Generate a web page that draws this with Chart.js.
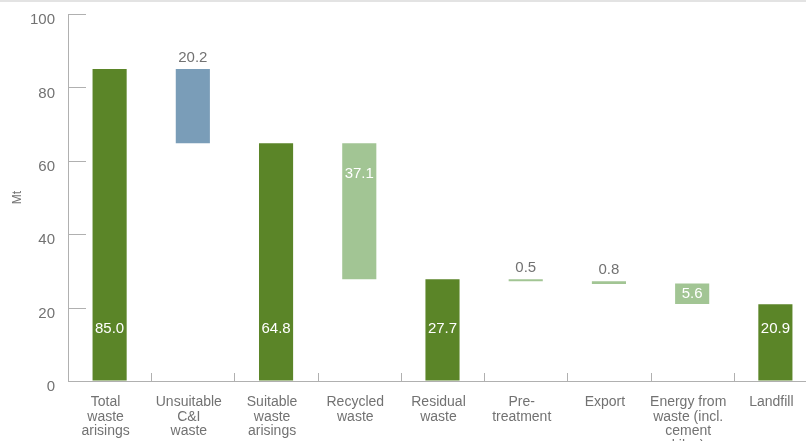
<!DOCTYPE html>
<html><head><meta charset="utf-8">
<script src="https://cdn.jsdelivr.net/npm/chart.js@4"></script>
<style>
html,body{margin:0;padding:0;background:#fff;overflow:hidden;}
#wrap{position:relative;width:817px;height:441px;}
#topline{position:absolute;left:0;top:0;width:806px;height:2px;background:#e3e3e3;}
</style></head><body>
<div id="wrap"><canvas id="c"></canvas></div>
<div id="topline"></div>
<script>
const categories = [
  ['Total','waste','arisings'],
  ['Unsuitable','C&I','waste'],
  ['Suitable','waste','arisings'],
  ['Recycled','waste'],
  ['Residual','waste'],
  ['Pre-','treatment'],
  ['Export'],
  ['Energy from','waste (incl.','cement','kilns)'],
  ['Landfill']
];
const barStarts = [0, 64.8, 0, 27.7, 0, 27.2, 26.4, 21.0, 0];
const barEnds   = [85.0, 85.0, 64.8, 64.8, 27.7, 27.7, 27.2, 26.6, 20.9];
const valueLabels = ['85.0','20.2','64.8','37.1','27.7','0.5','0.8','5.6','20.9'];
const yTicks = [0, 20, 40, 60, 80, 100];

const DARK = '#5b8528', BLUE = '#7a9db8', LIGHT = '#a2c594';
const barColors = [DARK, BLUE, DARK, LIGHT, DARK, LIGHT, LIGHT, LIGHT, DARK];
const labelModes = ['bottom','above','bottom','inTop','bottom','above','above','mid','bottom'];

const FONT = "'Liberation Sans', Arial, sans-serif";
const AXIS = '#b0b0b0';
const TEXT = '#727272';

const marks = {
  id: 'marks',
  afterDatasetsDraw(chart) {
    const {ctx, chartArea: a, scales: {x, y}} = chart;
    ctx.save();
    ctx.strokeStyle = AXIS;
    ctx.lineWidth = 1;
    yTicks.forEach(v => {
      const py = Math.round(y.getPixelForValue(v)) + 0.5;
      ctx.beginPath(); ctx.moveTo(a.left, py); ctx.lineTo(a.left + 18, py); ctx.stroke();
    });
    for (let i = 1; i < categories.length; i++) {
      const px = Math.round((x.getPixelForValue(i - 1) + x.getPixelForValue(i)) / 2) + 0.5;
      ctx.beginPath(); ctx.moveTo(px, a.bottom - 8); ctx.lineTo(px, a.bottom); ctx.stroke();
    }
    const meta = chart.getDatasetMeta(0);
    ctx.font = '15px ' + FONT;
    ctx.textAlign = 'center';
    ctx.textBaseline = 'middle';
    meta.data.forEach((el, i) => {
      const top = Math.min(el.y, el.base), bot = Math.max(el.y, el.base);
      let ty, col = '#ffffff';
      switch (labelModes[i]) {
        case 'bottom': ty = bot - 52; break;
        case 'above': ty = top - 11; col = TEXT; break;
        case 'inTop': ty = top + 31; break;
        default: ty = (top + bot) / 2;
      }
      ctx.fillStyle = col;
      ctx.fillText(valueLabels[i], el.x, ty);
    });
    ctx.restore();
  }
};

new Chart(document.getElementById('c'), {
  type: 'bar',
  data: {
    labels: categories,
    datasets: [{
      data: barStarts.map((s, i) => [s, barEnds[i]]),
      backgroundColor: barColors,
      borderWidth: 0,
      barPercentage: 0.41,
      categoryPercentage: 1
    }]
  },
  options: {
    responsive: true,
    maintainAspectRatio: false,
    animation: false,
    layout: {padding: {top: 14, left: 0, right: 0, bottom: 0}},
    plugins: {legend: {display: false}, tooltip: {enabled: false}},
    scales: {
      x: {
        grid: {display: true, drawOnChartArea: false, drawTicks: false},
        border: {display: true, color: AXIS, width: 1},
        ticks: {color: TEXT, font: {family: FONT, size: 14, lineHeight: 1.04}, padding: 14, labelOffset: -4, maxRotation: 0, autoSkip: false},
        afterFit(s) { s.height = 60; s.paddingLeft = 0; s.paddingRight = 0; }
      },
      y: {
        min: 0, max: 100,
        afterBuildTicks(s) { s.ticks = yTicks.map(v => ({value: v})); },
        grid: {display: true, drawOnChartArea: false, drawTicks: false},
        border: {display: true, color: AXIS, width: 1},
        ticks: {color: TEXT, font: {family: FONT, size: 15}, padding: 13, labelOffset: 6},
        title: {display: true, text: 'Mt', color: TEXT, font: {family: FONT, size: 12}, padding: {top: 10, bottom: 0}},
        afterFit(s) { s.width = 68; s.paddingTop = 0; s.paddingBottom = 0; }
      }
    }
  },
  plugins: [marks]
});
</script>
</body></html>
